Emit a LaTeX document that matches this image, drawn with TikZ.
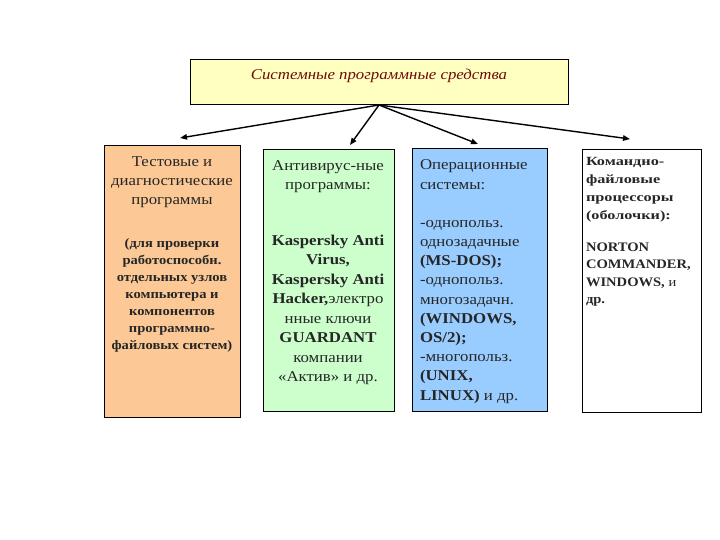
\documentclass[tikz,border=0pt]{standalone}
\usepackage{fontspec}
\setmainfont{Liberation Serif}
\newfontfamily\wide[FakeStretch=1.12]{Liberation Serif}
\newfontfamily\wider[FakeStretch=1.3]{Liberation Serif}
\usetikzlibrary{arrows.meta}
\definecolor{topfill}{HTML}{FFFFC0}
\definecolor{peach}{HTML}{FCC996}
\definecolor{mint}{HTML}{CCFFCC}
\definecolor{skyb}{HTML}{99CCFF}
\definecolor{darkred}{HTML}{6E0A0A}
\tikzset{
  box/.style={draw=black, line width=1pt, inner sep=0pt, outer sep=0pt},
  conn/.style={line width=1.4pt, -{Triangle[length=7pt,width=5.5pt]}},
  txt/.style={inner sep=0pt, outer sep=0pt, text=black!85},
}
\begin{document}
\begin{tikzpicture}[x=1pt,y=-1pt]
\useasboundingbox (0,0) rectangle (720,540);
% boxes
\node[box, fill=topfill, minimum width=378pt, minimum height=45pt, anchor=north west] (top) at (190,60) {};
\node[box, fill=peach, minimum width=136pt, minimum height=271pt, anchor=north west] (b1) at (104,146) {};
\node[box, fill=mint, minimum width=131pt, minimum height=261pt, anchor=north west] (b2) at (263,150) {};
\node[box, fill=skyb, minimum width=135pt, minimum height=262pt, anchor=north west] (b3) at (412,149) {};
\node[box, fill=white, minimum width=119pt, minimum height=262pt, anchor=north west] (b4) at (582,150) {};
% title
\node[txt, text=darkred, font=\wide\itshape\fontsize{15}{16}\selectfont, anchor=base] (title) at (379,80) {Системные программные средства};
% connector ends
\coordinate (e1) at (180,138);
\coordinate (e2) at (350,145);
\coordinate (e3) at (478,144);
\coordinate (e4) at (630,139);
\draw[conn] (top.south) -- (e1);
\draw[conn] (top.south) -- (e2);
\draw[conn] (top.south) -- (e3);
\draw[conn] (top.south) -- (e4);
% box 1 text (anchor = baseline of last line)
\node[txt, align=center, font=\wide\fontsize{15}{19}\selectfont, anchor=base] (t1a) at (172,205)
  {Тестовые и\\диагностические\\программы};
\node[txt, align=center, font=\wide\bfseries\fontsize{13}{17}\selectfont, anchor=base] (t1b) at (172,349)
  {(для проверки\\работоспособн.\\отдельных узлов\\компьютера и\\компонентов\\программно-\\файловых систем)};
% box 2 text
\node[txt, align=center, font=\wide\fontsize{15}{20}\selectfont, anchor=base] (t2a) at (328,190)
  {Антивирус-ные\\программы:};
\node[txt, align=center, font=\wide\fontsize{15}{19.5}\selectfont, anchor=base] (t2b) at (328,381.5)
  {\textbf{Kaspersky Anti}\\\textbf{Virus,}\\\textbf{Kaspersky Anti}\\\textbf{Hacker,}электро\\нные ключи\\\textbf{GUARDANT}\\компании\\«Актив» и др.};
% box 3 text
\node[txt, align=left, font=\wide\fontsize{15}{19.5}\selectfont, anchor=base west] (t3a) at (420,189.5)
  {Операционные\\системы:};
\node[txt, align=left, font=\wide\fontsize{15}{19.2}\selectfont, anchor=base west] (t3b) at (420,400)
  {-однопольз.\\однозадачные\\\textbf{(MS-DOS);}\\-однопольз.\\многозадачн.\\\textbf{(WINDOWS,}\\\textbf{OS/2);}\\-многопольз.\\\textbf{(UNIX,}\\\textbf{LINUX)} и др.};
% box 4 text
\node[txt, align=left, font=\wider\bfseries\fontsize{12.5}{17.8}\selectfont, anchor=base west] (t4a) at (586,219)
  {Командно-\\файловые\\процессоры\\(оболочки):};
\node[txt, align=left, font=\wide\fontsize{13}{17.5}\selectfont, anchor=base west] (t4b) at (586,303.5)
  {\textbf{NORTON}\\\textbf{COMMANDER,}\\\textbf{WINDOWS,} и\\\textbf{др.}};
\end{tikzpicture}
\end{document}
